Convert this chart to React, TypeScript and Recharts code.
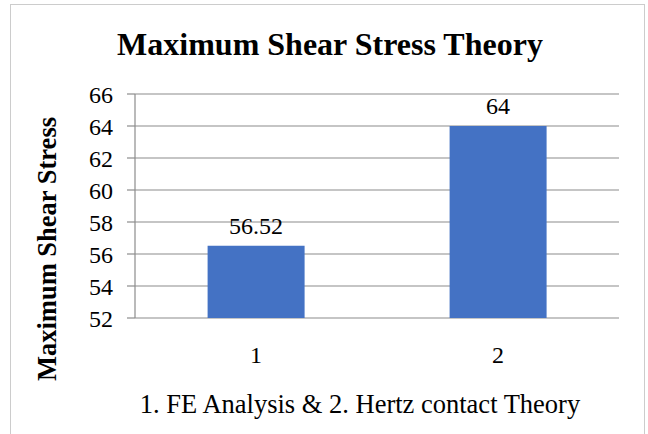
import { BarChart, Bar, XAxis, YAxis, CartesianGrid, LabelList } from 'recharts';

// categories and values
const categories = ['1', '2'];
const positions = [1, 2];
const shearStress = [56.52, 64];
const yTicks = [52, 54, 56, 58, 60, 62, 64, 66];
const edgeTicks = [0.5, 1.5, 2.5];

const data = categories.map((name, i) => ({ name, idx: positions[i], value: shearStress[i] }));

const FONT = '"Liberation Serif", "Times New Roman", serif';
const GRID = '#8c8c8c';
const BAR = '#4472C4';

const YLabel = ({ viewBox }: any) => {
  const x = viewBox.x - 28;
  const y = viewBox.y + viewBox.height / 2 + 43;
  return (
    <text
      x={x}
      y={y}
      transform={`rotate(-90, ${x}, ${y})`}
      textAnchor="middle"
      dominantBaseline="central"
      style={{ fontFamily: FONT, fontWeight: 'bold', fontSize: 26.5 }}
      fill="#000"
    >
      Maximum Shear Stress
    </text>
  );
};

const XLabel = ({ viewBox }: any) => (
  <text
    x={viewBox.x + viewBox.width / 2 - 17}
    y={viewBox.y + 95}
    textAnchor="middle"
    style={{ fontFamily: FONT, fontSize: 26.5 }}
    fill="#000"
  >
    1. FE Analysis &amp; 2. Hertz contact Theory
  </text>
);

export default function App() {
  return (
    <div
      style={{
        position: 'absolute',
        left: 0,
        top: 0,
        width: 648,
        height: 434,
        background: '#fff',
        overflow: 'hidden',
        fontFamily: FONT,
      }}
    >
      <div
        style={{
          position: 'absolute',
          left: 10,
          top: 4,
          width: 635,
          height: 440,
          border: '1.5px solid #cccccc',
          boxSizing: 'border-box',
        }}
      />
      <div
        style={{
          position: 'absolute',
          left: 0,
          top: 25,
          width: 660,
          textAlign: 'center',
          fontWeight: 'bold',
          fontSize: 32,
          lineHeight: '38px',
          color: '#000',
        }}
      >
        Maximum Shear Stress Theory
      </div>
      <div style={{ position: 'absolute', left: 0, top: 0 }}>
        <BarChart
          width={648}
          height={434}
          data={data}
          margin={{ top: 94, right: 29, bottom: 56, left: 75 }}
          barCategoryGap="30%"
          style={{ fontFamily: FONT }}
        >
          <CartesianGrid vertical={false} stroke={GRID} strokeWidth={1.2} />
          <XAxis
            xAxisId="edge"
            type="number"
            dataKey="idx"
            domain={[0.5, 2.5]}
            ticks={edgeTicks}
            tick={false}
            tickSize={7}
            height={0}
            stroke={GRID}
            strokeWidth={1.2}
          />
          <XAxis
            xAxisId="cat"
            dataKey="name"
            axisLine={false}
            tickLine={false}
            tickMargin={22}
            height={60}
            interval={0}
            tick={{ fontSize: 24, fill: '#000', style: { fontFamily: FONT } }}
            label={<XLabel />}
          />
          <YAxis
            domain={[52, 66]}
            ticks={yTicks}
            interval={0}
            width={60}
            tickSize={8}
            tickMargin={14}
            stroke={GRID}
            strokeWidth={1.2}
            tick={{ fontSize: 24, fill: '#000', style: { fontFamily: FONT } }}
            label={<YLabel />}
          />
          <Bar dataKey="value" xAxisId="cat" fill={BAR} isAnimationActive={false}>
            <LabelList
              dataKey="value"
              position="top"
              offset={12}
              style={{ fontFamily: FONT, fontSize: 24, fill: '#000' }}
            />
          </Bar>
        </BarChart>
      </div>
    </div>
  );
}
